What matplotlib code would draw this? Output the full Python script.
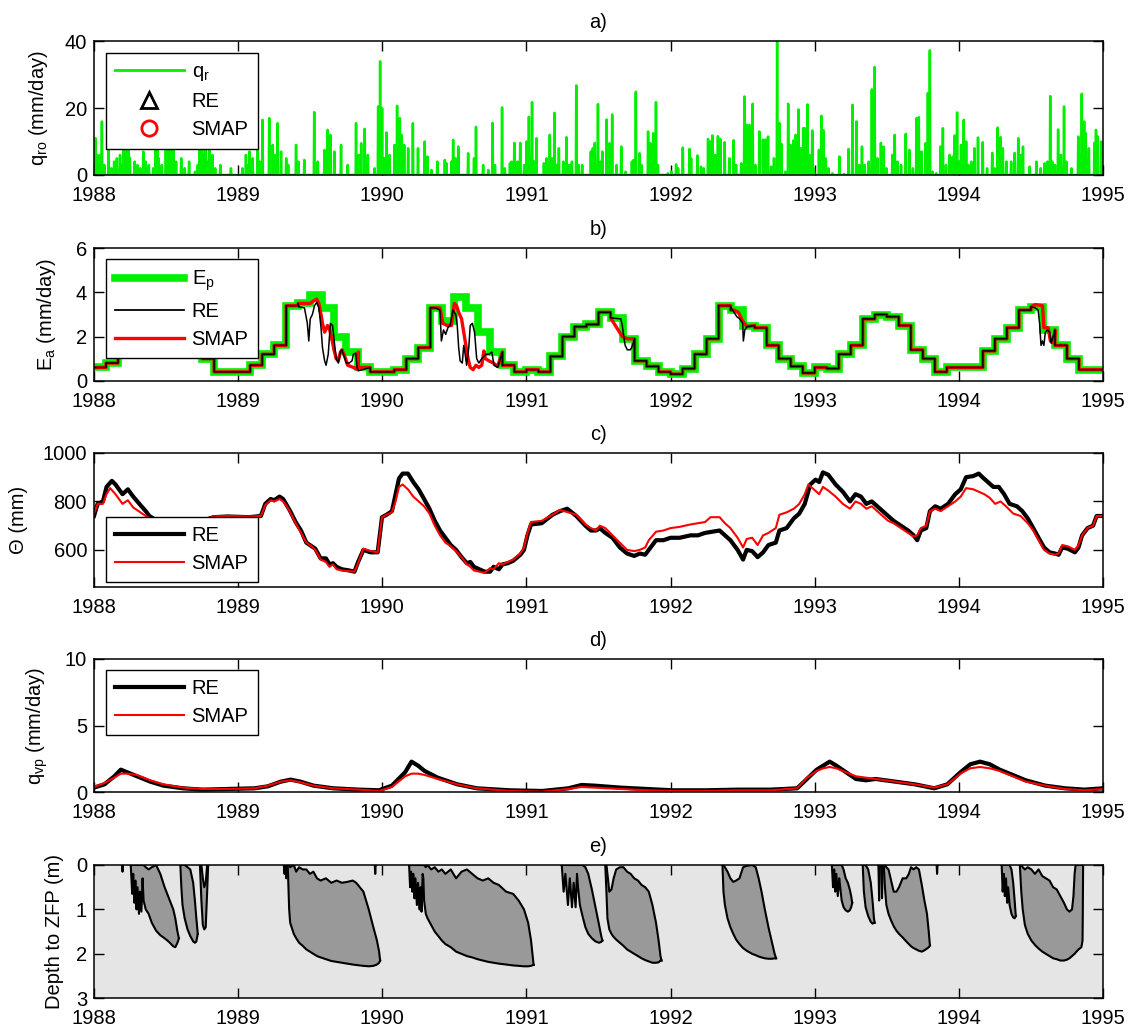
import numpy as np
import matplotlib
matplotlib.use("Agg")
import matplotlib.pyplot as plt
from matplotlib.lines import Line2D

plt.rcParams['font.family'] = ['Liberation Sans', 'DejaVu Sans']
plt.rcParams['mathtext.fontset'] = 'custom'
plt.rcParams['mathtext.rm'] = 'Liberation Sans'
plt.rcParams['mathtext.it'] = 'Liberation Sans'
FS = 14.5

# ---------------------------------------------------------------- data
years = [1988, 1989, 1990, 1991, 1992, 1993, 1994, 1995]

# (a) daily rainfall q_r spikes: (decimal year, mm/day)
rain_spikes = [
    (1988.000, 10), (1988.010, 11), (1988.025, 6), (1988.044, 6), (1988.056, 16), (1988.070, 3),
    (1988.102, 9), (1988.120, 2), (1988.140, 4), (1988.160, 5), (1988.180, 6), (1988.190, 3),
    (1988.206, 10), (1988.225, 12), (1988.240, 9), (1988.250, 5), (1988.281, 4), (1988.300, 3),
    (1988.320, 2), (1988.341, 7), (1988.360, 4), (1988.381, 3), (1988.410, 2), (1988.427, 11),
    (1988.440, 9), (1988.450, 5), (1988.470, 3), (1988.497, 13), (1988.510, 10), (1988.520, 6),
    (1988.531, 15), (1988.550, 9), (1988.570, 4), (1988.606, 5), (1988.630, 2), (1988.659, 4),
    (1988.700, 1), (1988.720, 3), (1988.735, 12), (1988.750, 10), (1988.760, 6), (1988.775, 14),
    (1988.790, 4), (1988.800, 9), (1988.821, 6), (1988.840, 2), (1988.875, 3), (1988.949, 2),
    (1989.030, 2), (1989.053, 6), (1989.070, 3), (1989.080, 7), (1989.100, 5), (1989.135, 8),
    (1989.150, 4), (1989.169, 16.5), (1989.216, 17), (1989.239, 9), (1989.255, 6), (1989.274, 15.5),
    (1989.297, 7), (1989.332, 5), (1989.348, 3), (1989.401, 9), (1989.418, 4), (1989.459, 4.5),
    (1989.529, 18.8), (1989.552, 4), (1989.599, 7.5), (1989.622, 13.5), (1989.640, 12), (1989.668, 7),
    (1989.715, 9), (1989.761, 3), (1989.819, 15.5), (1989.838, 6), (1989.854, 9.5), (1989.877, 13.8),
    (1989.900, 6), (1989.947, 2), (1989.970, 20.5), (1989.984, 34), (1990.000, 20), (1990.016, 5),
    (1990.028, 12.7), (1990.051, 6), (1990.086, 9), (1990.104, 20.7), (1990.121, 17), (1990.132, 12),
    (1990.151, 9), (1990.179, 8), (1990.213, 15.5), (1990.248, 8), (1990.295, 10), (1990.314, 5.5),
    (1990.342, 1.5), (1990.383, 4), (1990.434, 4.5), (1990.446, 3.5), (1990.480, 4), (1990.492, 10.5),
    (1990.508, 5), (1990.527, 8.5), (1990.596, 6.5), (1990.637, 5), (1990.649, 14.4), (1990.700, 3),
    (1990.734, 1.5), (1990.764, 15.6), (1990.781, 3), (1990.831, 20.2), (1990.850, 2), (1990.885, 3.5),
    (1990.896, 4), (1990.915, 9.6), (1990.938, 4), (1990.958, 9.6), (1990.984, 3), (1991.000, 10),
    (1991.018, 17.4), (1991.039, 21.8), (1991.053, 4), (1991.069, 11), (1991.120, 3.5), (1991.139, 5),
    (1991.162, 12), (1991.178, 5), (1991.196, 18.6), (1991.212, 3), (1991.226, 8), (1991.254, 4),
    (1991.277, 11.3), (1991.296, 3), (1991.316, 4), (1991.346, 26.8), (1991.363, 3), (1991.386, 3),
    (1991.446, 7), (1991.462, 8), (1991.473, 9.6), (1991.497, 21.2), (1991.515, 4), (1991.527, 7),
    (1991.557, 16.6), (1991.577, 9.5), (1991.596, 18.1), (1991.624, 3), (1991.658, 8.5), (1991.688, 1),
    (1991.732, 4), (1991.744, 4.5), (1991.760, 24.9), (1991.785, 6.5), (1991.797, 3), (1991.843, 13),
    (1991.861, 9.5), (1991.880, 12.5), (1991.898, 21.8), (1991.912, 3), (1991.982, 0.5), (1992.005, 1),
    (1992.039, 3.2), (1992.051, 2), (1992.085, 8.2), (1992.132, 7.8), (1992.143, 5), (1992.185, 5.8),
    (1992.212, 2.5), (1992.231, 2), (1992.259, 10.8), (1992.277, 10), (1992.289, 11.8), (1992.309, 6),
    (1992.328, 11.6), (1992.346, 10.8), (1992.374, 9.8), (1992.409, 5), (1992.439, 10.4), (1992.455, 3),
    (1992.490, 3.5), (1992.513, 23.5), (1992.529, 15), (1992.547, 15), (1992.570, 21.3), (1992.589, 3),
    (1992.617, 13), (1992.640, 10.6), (1992.659, 10.6), (1992.675, 11.5), (1992.698, 2.5), (1992.717, 5),
    (1992.740, 40), (1992.756, 15.5), (1992.768, 9.3), (1992.798, 1), (1992.817, 21.3), (1992.833, 9),
    (1992.851, 10.3), (1992.868, 12), (1992.886, 19.6), (1992.903, 8), (1992.921, 14), (1992.930, 14),
    (1992.949, 21.1), (1992.965, 6), (1992.984, 13.3), (1992.995, 2), (1993.030, 7.5), (1993.046, 17.7),
    (1993.060, 13.4), (1993.077, 5), (1993.095, 2), (1993.123, 0.5), (1993.172, 5.5), (1993.204, 0.3),
    (1993.234, 7.8), (1993.262, 21), (1993.290, 16), (1993.309, 3), (1993.327, 8.5), (1993.348, 3),
    (1993.374, 4), (1993.397, 25.6), (1993.415, 32.3), (1993.436, 5), (1993.459, 9.6), (1993.478, 8.5),
    (1993.497, 2), (1993.538, 6), (1993.555, 12), (1993.575, 4), (1993.599, 3), (1993.633, 12.3),
    (1993.657, 7.5), (1993.680, 2), (1993.705, 17), (1993.722, 17.3), (1993.742, 7), (1993.768, 9.5),
    (1993.784, 24.5), (1993.800, 37.3), (1993.819, 1), (1993.842, 0.5), (1993.872, 8.5), (1993.889, 14),
    (1993.912, 3), (1993.935, 6), (1993.958, 5.5), (1993.970, 11.8), (1993.988, 18.7), (1994.005, 4),
    (1994.016, 9), (1994.035, 16.5), (1994.051, 10), (1994.067, 3), (1994.086, 4), (1994.109, 8),
    (1994.132, 11.2), (1994.167, 9.8), (1994.197, 2), (1994.232, 6.6), (1994.248, 2), (1994.271, 14.2),
    (1994.290, 11.3), (1994.306, 8), (1994.329, 4), (1994.364, 4), (1994.387, 6.6), (1994.411, 11),
    (1994.429, 6), (1994.445, 8.5), (1994.492, 2.5), (1994.538, 4), (1994.568, 2), (1994.596, 3.5),
    (1994.615, 4), (1994.633, 23.6), (1994.647, 4), (1994.666, 3), (1994.689, 13.6), (1994.708, 6),
    (1994.731, 20.5), (1994.747, 4), (1994.782, 2), (1994.829, 11.5), (1994.840, 6), (1994.854, 24.3),
    (1994.868, 16), (1994.880, 12.5), (1994.903, 8), (1994.940, 9.6), (1994.951, 13.5), (1994.963, 11.5),
    (1994.986, 10),
]

# (b) monthly potential evaporation Ep (mm/day), Jan..Dec per year
ep_1988 = [0.6, 0.8, 1.35, 1.9, 2.6, 3.2, 3.5, 3.2, 2.2, 1.0, 0.4, 0.4]
ep_1989 = [0.4, 0.7, 1.2, 1.6, 3.4, 3.5, 3.9, 3.3, 2.0, 1.3, 0.6, 0.4]
ep_1990 = [0.4, 0.5, 1.0, 1.5, 3.3, 2.7, 3.8, 3.3, 2.2, 1.3, 0.7, 0.4]
ep_1991 = [0.5, 0.4, 1.1, 2.0, 2.45, 2.55, 3.1, 2.85, 1.9, 0.9, 0.65, 0.4]
ep_1992 = [0.3, 0.55, 1.2, 1.9, 3.4, 3.2, 2.5, 2.4, 1.6, 1.0, 0.65, 0.35]
ep_1993 = [0.6, 0.55, 1.2, 1.6, 2.8, 3.0, 2.9, 2.5, 1.4, 1.0, 0.4, 0.6]
ep_1994 = [0.6, 0.6, 1.35, 1.9, 2.4, 3.2, 3.35, 2.3, 1.6, 1.0, 0.5, 0.5]

# (b) periods where actual evaporation departs from Ep: (decimal year, mm/day)
ea_re_dev = [
    [(1989.42, 3.35), (1989.46, 3.3), (1989.48, 2.6), (1989.49, 1.8), (1989.50, 2.8), (1989.515, 3.0),
     (1989.53, 3.4), (1989.545, 3.55), (1989.56, 3.3), (1989.575, 2.4), (1989.585, 1.5), (1989.60, 0.9),
     (1989.61, 0.7), (1989.625, 1.2), (1989.64, 2.6), (1989.655, 2.5), (1989.67, 1.6), (1989.68, 1.0),
     (1989.695, 0.8), (1989.71, 1.3), (1989.72, 1.4), (1989.735, 1.1), (1989.75, 0.8), (1989.77, 0.8),
     (1989.79, 0.9), (1989.80, 1.2), (1989.815, 1.25), (1989.825, 0.6), (1989.835, 0.45)],
    [(1990.37, 3.3), (1990.40, 3.2), (1990.41, 1.8), (1990.425, 2.3), (1990.44, 2.1), (1990.455, 2.4),
     (1990.47, 2.5), (1990.49, 3.2), (1990.51, 3.0), (1990.52, 2.5), (1990.53, 1.5), (1990.54, 0.9),
     (1990.555, 0.8), (1990.565, 1.6), (1990.575, 1.2), (1990.585, 0.7), (1990.60, 1.5), (1990.61, 2.5),
     (1990.625, 2.6), (1990.64, 2.2), (1990.655, 1.0), (1990.67, 0.8), (1990.69, 1.0), (1990.72, 1.2),
     (1990.74, 1.2), (1990.76, 1.3), (1990.775, 0.7), (1990.80, 0.6)],
    [(1991.655, 2.8), (1991.665, 2.5), (1991.675, 2.0), (1991.685, 1.6), (1991.70, 1.4), (1991.72, 1.4),
     (1991.73, 1.5)],
    [(1992.42, 3.3), (1992.44, 3.1), (1992.46, 2.9), (1992.48, 2.8), (1992.50, 2.6), (1992.505, 1.8),
     (1992.515, 2.3), (1992.53, 2.45)],
    [(1994.53, 3.3), (1994.55, 3.2), (1994.56, 2.6), (1994.57, 1.6), (1994.58, 1.8), (1994.59, 1.6),
     (1994.60, 2.2), (1994.615, 2.3), (1994.63, 2.2), (1994.64, 1.7)],
]
ea_smap_dev = [
    [(1989.50, 3.5), (1989.52, 3.6), (1989.545, 3.7), (1989.56, 3.5), (1989.575, 3.0), (1989.585, 2.6),
     (1989.60, 2.2), (1989.62, 2.5), (1989.635, 2.3), (1989.65, 1.9), (1989.665, 1.4), (1989.68, 1.0),
     (1989.695, 0.9), (1989.71, 1.3), (1989.72, 1.4), (1989.74, 1.1), (1989.76, 0.7), (1989.80, 0.6),
     (1989.83, 0.5)],
    [(1990.40, 3.3), (1990.42, 2.6), (1990.45, 2.5), (1990.48, 2.5), (1990.50, 3.5), (1990.515, 3.4),
     (1990.53, 3.1), (1990.55, 2.8), (1990.565, 2.2), (1990.58, 1.6), (1990.595, 1.0), (1990.61, 0.6),
     (1990.63, 0.5), (1990.65, 0.7), (1990.67, 0.6), (1990.69, 0.7), (1990.705, 1.35), (1990.715, 1.0),
     (1990.74, 0.9), (1990.77, 0.8), (1990.80, 0.65)],
    [(1991.665, 2.0), (1991.70, 1.9), (1991.73, 1.9)],
    [(1992.44, 3.2), (1992.47, 3.1), (1992.50, 2.7), (1992.53, 2.45)],
    [(1994.53, 3.45), (1994.58, 3.4), (1994.59, 2.4), (1994.62, 2.4), (1994.635, 1.8), (1994.66, 1.7)],
]

# (c) soil water storage Theta (mm)
theta_re_t = [1988.000, 1988.025, 1988.062, 1988.087, 1988.124, 1988.149, 1988.198, 1988.235, 1988.272,
              1988.322, 1988.359, 1988.384, 1988.45, 1988.55, 1988.65, 1988.75, 1988.829, 1988.928,
              1989.077, 1989.158, 1989.188, 1989.225, 1989.250, 1989.287, 1989.312, 1989.337, 1989.361,
              1989.399, 1989.436, 1989.473, 1989.510, 1989.535, 1989.572, 1989.609, 1989.634, 1989.658,
              1989.683, 1989.720, 1989.770, 1989.807, 1989.832, 1989.869, 1989.918, 1989.968, 1989.998,
              1990.030, 1990.067, 1990.092, 1990.116, 1990.141, 1990.178, 1990.215, 1990.252, 1990.290,
              1990.327, 1990.364, 1990.401, 1990.438, 1990.475, 1990.512, 1990.550, 1990.587, 1990.611,
              1990.636, 1990.673, 1990.710, 1990.748, 1990.772, 1990.809, 1990.834, 1990.871, 1990.908,
              1990.958, 1990.983, 1991.007, 1991.032, 1991.106, 1991.181,
              1991.233, 1991.283, 1991.346, 1991.409, 1991.447, 1991.484, 1991.509, 1991.547, 1991.597,
              1991.648, 1991.698, 1991.748, 1991.786, 1991.824, 1991.849, 1991.899, 1991.950, 1992.000,
              1992.063, 1992.101, 1992.138, 1992.189, 1992.239, 1992.289, 1992.340, 1992.377, 1992.415,
              1992.465, 1992.503, 1992.528, 1992.566, 1992.604, 1992.642, 1992.679, 1992.730, 1992.755,
              1992.805, 1992.855, 1992.893, 1992.931, 1992.969, 1993.006, 1993.031, 1993.057, 1993.094,
              1993.145, 1993.195, 1993.245, 1993.283, 1993.321, 1993.358, 1993.396, 1993.434, 1993.472,
              1993.509, 1993.547, 1993.597, 1993.648, 1993.686, 1993.711, 1993.736, 1993.774, 1993.799,
              1993.836, 1993.874, 1993.925, 1993.975, 1994.013, 1994.050, 1994.101, 1994.138, 1994.164,
              1994.201, 1994.239, 1994.277, 1994.314, 1994.352, 1994.403, 1994.440, 1994.478, 1994.516,
              1994.553, 1994.591, 1994.629, 1994.667, 1994.692, 1994.717, 1994.755, 1994.805, 1994.830,
              1994.855, 1994.893, 1994.931, 1994.956, 1994.994]
theta_re = [740, 790, 800, 860, 885, 870, 830, 850, 820,
            785, 760, 740, 715, 700, 705, 720, 735, 738,
            735, 740, 790, 810, 805, 820, 810, 785, 760,
            715, 680, 630, 615, 605, 565, 565, 540, 545,
            530, 520, 515, 510, 550, 600, 590, 590, 735,
            745, 760, 830, 895, 915, 915, 880, 850, 810,
            770, 720, 680, 650, 620, 600, 570, 545, 550,
            530, 520, 510, 510, 530, 520, 540, 545, 555,
            580, 600, 660, 705, 710, 745,
            760, 770, 740, 700, 680, 680, 690, 670, 650,
            610, 585, 575, 585, 580, 600, 640, 640, 650,
            650, 655, 660, 660, 670, 675, 680, 660, 640,
            600, 560, 600, 595, 570, 590, 620, 630, 680,
            690, 730, 750, 790, 870, 890, 880, 920, 910,
            870, 840, 800, 830, 820, 790, 800, 780, 760,
            740, 720, 700, 680, 660, 640, 680, 690, 760,
            780, 770, 790, 830, 850, 900, 905, 915, 900,
            880, 860, 860, 830, 790, 780, 760, 730, 690,
            650, 610, 590, 585, 580, 610, 605, 590, 610,
            660, 690, 700, 740, 740]
theta_smap_t = [1988.000, 1988.025, 1988.062, 1988.087, 1988.112, 1988.149, 1988.198, 1988.235, 1988.272,
                1988.322, 1988.359, 1988.45, 1988.55, 1988.65, 1988.75, 1988.829, 1988.928, 1989.077,
                1989.158, 1989.188, 1989.225, 1989.250, 1989.287, 1989.312, 1989.337, 1989.361, 1989.399,
                1989.436, 1989.473, 1989.510, 1989.535, 1989.572, 1989.609, 1989.634, 1989.658, 1989.683,
                1989.720, 1989.770, 1989.807, 1989.832, 1989.869, 1989.918, 1989.968, 1989.998, 1990.030,
                1990.067, 1990.092, 1990.116, 1990.141, 1990.178, 1990.215, 1990.252, 1990.290, 1990.327,
                1990.364, 1990.401, 1990.438, 1990.475, 1990.512, 1990.550, 1990.587, 1990.611, 1990.636,
                1990.673, 1990.710, 1990.748, 1990.772, 1990.809, 1990.834, 1990.871, 1990.908, 1990.958,
                1990.983, 1991.007, 1991.032, 1991.106, 1991.181,
                1991.233, 1991.346, 1991.409, 1991.447, 1991.484, 1991.509, 1991.547, 1991.597, 1991.648,
                1991.698, 1991.748, 1991.786, 1991.824, 1991.849, 1991.899, 1991.950, 1992.000, 1992.063,
                1992.101, 1992.138, 1992.189, 1992.239, 1992.277, 1992.340, 1992.377, 1992.415, 1992.465,
                1992.503, 1992.528, 1992.566, 1992.604, 1992.642, 1992.679, 1992.730, 1992.755, 1992.805,
                1992.855, 1992.893, 1992.931, 1992.956, 1992.994, 1993.031, 1993.057, 1993.094, 1993.145,
                1993.195, 1993.245, 1993.283, 1993.321, 1993.358, 1993.396, 1993.434, 1993.472, 1993.509,
                1993.547, 1993.597, 1993.648, 1993.686, 1993.711, 1993.736, 1993.774, 1993.799, 1993.836,
                1993.874, 1993.925, 1993.975, 1994.013, 1994.050, 1994.101, 1994.138, 1994.176, 1994.214,
                1994.252, 1994.289, 1994.327, 1994.377, 1994.428, 1994.478, 1994.516, 1994.553, 1994.591,
                1994.629, 1994.667, 1994.692, 1994.717, 1994.755, 1994.805, 1994.830, 1994.855, 1994.893,
                1994.931, 1994.956, 1994.994]
theta_smap = [750, 790, 790, 830, 855, 830, 790, 805, 775,
              755, 740, 710, 695, 700, 720, 738, 740, 738,
              740, 785, 805, 800, 810, 800, 780, 755, 710,
              670, 630, 615, 600, 560, 550, 530, 540, 520,
              515, 512, 510, 545, 605, 595, 590, 735, 745,
              755, 800, 860, 870, 850, 820, 800, 780, 750,
              700, 660, 630, 615, 595, 570, 540, 530, 515,
              510, 505, 525, 520, 545, 540, 550, 560, 585,
              610, 670, 715, 720, 745,
              765, 745, 705, 690, 680, 700, 690, 660, 630,
              600, 595, 600, 610, 640, 675, 680, 690, 695,
              700, 705, 710, 715, 735, 735, 710, 690, 650,
              610, 645, 650, 620, 660, 670, 690, 745, 755,
              770, 790, 830, 870, 850, 830, 860, 845, 820,
              790, 770, 800, 790, 770, 780, 760, 740, 720,
              710, 690, 670, 655, 660, 690, 700, 760, 770,
              760, 780, 800, 820, 855, 850, 840, 830, 815,
              790, 800, 780, 750, 740, 710, 680, 640, 600,
              585, 580, 585, 620, 615, 600, 620, 660, 690,
              700, 740, 740]

# (d) vapour / drainage flux q_vp (mm/day)
qvp_t = [1988.000, 1988.073, 1988.141, 1988.186, 1988.231, 1988.299, 1988.390, 1988.481, 1988.617, 1988.752,
         1988.934, 1989.115, 1989.206, 1989.296, 1989.364, 1989.432, 1989.523, 1989.659, 1989.840, 1989.976,
         1990.067, 1990.158, 1990.203, 1990.248, 1990.294, 1990.384, 1990.520, 1990.656, 1990.883, 1991.110,
         1991.291, 1991.382, 1991.472, 1991.654, 1991.835, 1992.016, 1992.243, 1992.470, 1992.696, 1992.878,
         1992.946, 1993.014, 1993.059, 1993.104, 1993.150, 1993.218, 1993.286, 1993.354, 1993.422, 1993.558,
         1993.694, 1993.830, 1993.920, 1994.011, 1994.079, 1994.147, 1994.215, 1994.283, 1994.374, 1994.464,
         1994.600, 1994.736, 1994.872, 1994.999]
qvp_re = [0.35, 0.6, 1.2, 1.7, 1.5, 1.2, 0.8, 0.5, 0.3, 0.2,
          0.25, 0.3, 0.45, 0.8, 0.95, 0.8, 0.5, 0.3, 0.2, 0.15,
          0.5, 1.5, 2.3, 2.0, 1.6, 1.1, 0.6, 0.3, 0.15, 0.1,
          0.3, 0.55, 0.5, 0.35, 0.25, 0.15, 0.15, 0.2, 0.2, 0.3,
          1.0, 1.7, 2.0, 2.3, 2.0, 1.5, 1.0, 0.9, 1.0, 0.8,
          0.6, 0.3, 0.6, 1.5, 2.1, 2.3, 2.1, 1.7, 1.3, 0.9,
          0.5, 0.3, 0.2, 0.3]
qvp_smap = [0.4, 0.7, 1.1, 1.4, 1.4, 1.3, 0.9, 0.6, 0.35, 0.25,
            0.25, 0.3, 0.5, 0.8, 0.9, 0.75, 0.5, 0.3, 0.2, 0.1,
            0.4, 1.2, 1.4, 1.4, 1.3, 1.0, 0.6, 0.3, 0.1, 0.05,
            0.25, 0.4, 0.35, 0.25, 0.15, 0.1, 0.1, 0.15, 0.15, 0.3,
            1.1, 1.6, 1.8, 1.9, 1.8, 1.5, 1.2, 1.1, 1.0, 0.8,
            0.6, 0.35, 0.6, 1.4, 1.8, 1.9, 1.8, 1.6, 1.2, 0.8,
            0.5, 0.25, 0.15, 0.25]

# (e) depth to zero-flux plane events: (decimal year, upper depth, lower depth) in m
zfp_events = [
    [(1988.195, 0, 0), (1988.198, 0, 0.15), (1988.201, 0, 0)],
    [(1988.255, 0, 0), (1988.265, 0, 0.65), (1988.272, 0, 0.2), (1988.280, 0, 0.85), (1988.287, 0, 0.35),
     (1988.295, 0, 1.0), (1988.302, 0, 0.5), (1988.312, 0, 1.1), (1988.319, 0, 0.6), (1988.329, 0, 1.05),
     (1988.337, 0, 0.3), (1988.344, 0, 0.8), (1988.359, 0.05, 1.0), (1988.379, 0.1, 1.1),
     (1988.401, 0.05, 1.3), (1988.431, 0.0, 1.48), (1988.460, 0.2, 1.58), (1988.490, 0.5, 1.65),
     (1988.520, 0.75, 1.73), (1988.550, 1.0, 1.83), (1988.564, 1.2, 1.85), (1988.579, 1.5, 1.75),
     (1988.589, 1.65, 1.65)],
    [(1988.599, 0, 0), (1988.606, 0, 0.5), (1988.614, 0, 0.9), (1988.629, 0, 1.2), (1988.649, 0.05, 1.45),
     (1988.668, 0.1, 1.6), (1988.688, 0.4, 1.72), (1988.700, 0.8, 1.75), (1988.710, 1.2, 1.72),
     (1988.720, 1.55, 1.55)],
    [(1988.735, 0, 0), (1988.745, 0, 0.8), (1988.755, 0.3, 1.35), (1988.765, 0.5, 1.45),
     (1988.775, 0.4, 1.4), (1988.785, 0, 0.6), (1988.792, 0, 0)],
    [(1989.317, 0, 0), (1989.322, 0, 0.2), (1989.327, 0, 0), (1989.334, 0, 0.3), (1989.339, 0, 0)],
    [(1989.344, 0, 0), (1989.349, 0, 0.5), (1989.354, 0, 1.0), (1989.361, 0.05, 1.3), (1989.386, 0.0, 1.55),
     (1989.403, 0.15, 1.65), (1989.423, 0.05, 1.75), (1989.448, 0.1, 1.82), (1989.473, 0.1, 1.9),
     (1989.498, 0.2, 1.95), (1989.522, 0.15, 2.0), (1989.547, 0.3, 2.05), (1989.572, 0.35, 2.08),
     (1989.609, 0.3, 2.12), (1989.646, 0.4, 2.16), (1989.683, 0.35, 2.18), (1989.720, 0.4, 2.2),
     (1989.757, 0.38, 2.22), (1989.795, 0.35, 2.24), (1989.819, 0.4, 2.25), (1989.844, 0.5, 2.26),
     (1989.869, 0.6, 2.27), (1989.906, 1.0, 2.28), (1989.938, 1.4, 2.27), (1989.963, 1.7, 2.24),
     (1989.978, 1.95, 2.2), (1989.985, 2.15, 2.15)],
    [(1989.948, 0, 0), (1989.951, 0, 0.2), (1989.954, 0, 0)],
    [(1990.186, 0, 0), (1990.193, 0, 0.5), (1990.200, 0, 0.15), (1990.208, 0, 0.6), (1990.215, 0, 0.2),
     (1990.223, 0, 0.75), (1990.230, 0, 0.3), (1990.240, 0, 0.9), (1990.248, 0, 0.4), (1990.257, 0, 1.0),
     (1990.265, 0, 0.5), (1990.272, 0, 1.05), (1990.280, 0, 0.2), (1990.285, 0, 0.3), (1990.290, 0, 0.8),
     (1990.302, 0.05, 1.1), (1990.314, 0.0, 1.2), (1990.339, 0.1, 1.35), (1990.364, 0.05, 1.5),
     (1990.389, 0.15, 1.6), (1990.413, 0.1, 1.7), (1990.438, 0.2, 1.78), (1990.475, 0.1, 1.85),
     (1990.512, 0.3, 1.95), (1990.550, 0.15, 2.0), (1990.587, 0.1, 2.05), (1990.624, 0.2, 2.08),
     (1990.661, 0.3, 2.12), (1990.698, 0.35, 2.15), (1990.735, 0.3, 2.18), (1990.772, 0.4, 2.2),
     (1990.809, 0.45, 2.22), (1990.859, 0.6, 2.24), (1990.908, 0.65, 2.26), (1990.946, 0.8, 2.27),
     (1990.983, 1.0, 2.28), (1991.012, 1.3, 2.28), (1991.032, 1.7, 2.27), (1991.045, 2.1, 2.25),
     (1991.050, 2.25, 2.25)],
    [(1991.245, 0, 0), (1991.258, 0, 0.6), (1991.270, 0, 0.2), (1991.288, 0, 0.9), (1991.301, 0, 0.3),
     (1991.316, 0, 0.95), (1991.328, 0, 0.4), (1991.341, 0, 0.95), (1991.351, 0, 0.2), (1991.358, 0, 0.5),
     (1991.371, 0, 0.9), (1991.389, 0, 1.15), (1991.409, 0.05, 1.4), (1991.429, 0.2, 1.55),
     (1991.454, 0.55, 1.65), (1991.479, 0.95, 1.72), (1991.504, 1.35, 1.75), (1991.519, 1.6, 1.73),
     (1991.527, 1.7, 1.7)],
    [(1991.547, 0, 0), (1991.555, 0, 0.6), (1991.562, 0.2, 1.2), (1991.575, 0.6, 1.45), (1991.590, 0.55, 1.55),
     (1991.605, 0.3, 1.62), (1991.623, 0.1, 1.68), (1991.648, 0.05, 1.75), (1991.673, 0.05, 1.82),
     (1991.698, 0.15, 1.9), (1991.723, 0.2, 1.95), (1991.748, 0.3, 2.0), (1991.774, 0.35, 2.05),
     (1991.799, 0.45, 2.1), (1991.824, 0.5, 2.14), (1991.849, 0.6, 2.17), (1991.874, 0.9, 2.2),
     (1991.899, 1.3, 2.2), (1991.917, 1.7, 2.19), (1991.930, 2.05, 2.15), (1991.937, 2.15, 2.15)],
    [(1992.360, 0, 0), (1992.367, 0, 0.6), (1992.377, 0.05, 0.9), (1992.395, 0.15, 1.2), (1992.415, 0.3, 1.4),
     (1992.435, 0.38, 1.55), (1992.455, 0.35, 1.68), (1992.478, 0.3, 1.78), (1992.503, 0.05, 1.87),
     (1992.528, 0.02, 1.93), (1992.566, 0.0, 2.0), (1992.591, 0.05, 2.03), (1992.611, 0.3, 2.06),
     (1992.631, 0.6, 2.08), (1992.654, 1.0, 2.1), (1992.679, 1.4, 2.11), (1992.704, 1.75, 2.11),
     (1992.722, 2.0, 2.1), (1992.732, 2.1, 2.1)],
    [(1993.119, 0, 0), (1993.127, 0, 0.5), (1993.135, 0, 0.1), (1993.142, 0, 0.6), (1993.150, 0, 0.2),
     (1993.160, 0, 0.7), (1993.170, 0, 0.3), (1993.177, 0, 0.5), (1993.187, 0, 0.8), (1993.200, 0.1, 0.95),
     (1993.215, 0.3, 1.02), (1993.230, 0.4, 1.05), (1993.243, 0.55, 1.02), (1993.253, 0.7, 0.95),
     (1993.260, 0.85, 0.85)],
    [(1993.333, 0, 0), (1993.341, 0, 0.6), (1993.353, 0, 0.95), (1993.371, 0.1, 1.15), (1993.389, 0.4, 1.28),
     (1993.401, 0.8, 1.32), (1993.411, 1.2, 1.3), (1993.416, 1.3, 1.3)],
    [(1993.442, 0, 0), (1993.447, 0, 0.8), (1993.452, 0, 0)],
    [(1993.462, 0, 0), (1993.467, 0, 0.75), (1993.472, 0, 0)],
    [(1993.479, 0, 0), (1993.487, 0, 0.5), (1993.497, 0.05, 0.9), (1993.512, 0.1, 1.1), (1993.530, 0.35, 1.25),
     (1993.548, 0.6, 1.38), (1993.567, 0.6, 1.48), (1993.585, 0.5, 1.55), (1993.610, 0.3, 1.63),
     (1993.635, 0.3, 1.72), (1993.653, 0.2, 1.78), (1993.668, 0.05, 1.83), (1993.686, 0.1, 1.87),
     (1993.704, 0.05, 1.9), (1993.723, 0.1, 1.93), (1993.743, 0.45, 1.95), (1993.761, 0.8, 1.92),
     (1993.779, 1.1, 1.88), (1993.791, 1.5, 1.85), (1993.799, 1.8, 1.82)],
    [(1993.846, 0, 0), (1993.849, 0, 0.2), (1993.852, 0, 0)],
    [(1994.297, 0, 0), (1994.304, 0, 0.6), (1994.312, 0, 0.2), (1994.319, 0, 0.7), (1994.327, 0, 0.3),
     (1994.335, 0, 0.85), (1994.342, 0, 0.5), (1994.352, 0, 0.9), (1994.365, 0.1, 1.1), (1994.377, 0.4, 1.18),
     (1994.387, 0.8, 1.2), (1994.395, 1.15, 1.15)],
    [(1994.423, 0, 0), (1994.433, 0, 0.6), (1994.443, 0.05, 1.0), (1994.458, 0.1, 1.35), (1994.478, 0.05, 1.55),
     (1994.503, 0.1, 1.7), (1994.528, 0.2, 1.8), (1994.553, 0.1, 1.88), (1994.579, 0.25, 1.95),
     (1994.604, 0.3, 2.0), (1994.629, 0.35, 2.05), (1994.654, 0.5, 2.1), (1994.679, 0.55, 2.12),
     (1994.704, 0.7, 2.15), (1994.729, 0.85, 2.15), (1994.750, 1.0, 2.13), (1994.767, 1.05, 2.1),
     (1994.785, 1.0, 2.05), (1994.795, 0.7, 2.02), (1994.803, 0.2, 2.0), (1994.810, 0.0, 1.97),
     (1994.830, 0, 1.9), (1994.850, 0, 1.85), (1994.858, 0, 1.7), (1994.860, 0, 1.0), (1994.862, 0, 0)],
]

# ---------------------------------------------------------------- styling
GREEN = '#00f000'
RED = '#ff0000'
W, H = 1131, 1029
L, R = 94, 1103
panel_px = [(41.3, 175.0), (248.3, 380.7), (453.0, 586.7), (659.0, 792.3), (865.0, 998.3)]

fig = plt.figure(figsize=(W / 100, H / 100), dpi=100)
axes = []
for top, bot in panel_px:
    ax = fig.add_axes([L / W, 1 - bot / H, (R - L) / W, (bot - top) / H])
    axes.append(ax)


def style(ax, title):
    ax.set_xlim(1988, 1995)
    ax.set_xticks(years)
    ax.set_xticklabels([str(y) for y in years])
    ax.tick_params(direction='in', length=7, width=1.0, top=True, right=True,
                   labelsize=FS)
    ax.tick_params(axis='x', pad=8)
    ax.tick_params(axis='y', pad=5)
    for s in ax.spines.values():
        s.set_linewidth(1.1)
        s.set_zorder(10)
    ax.set_title(title, fontsize=FS, pad=9.5)


def leg(ax, handles, labels, ytop):
    lg = ax.legend(handles, labels, loc='upper left', bbox_to_anchor=((106 - L) / (R - L), ytop),
                   borderaxespad=0, fontsize=FS, fancybox=False, framealpha=1, edgecolor='k',
                   handlelength=3.4, handletextpad=0.4, labelspacing=0.45, borderpad=0.45)
    lg.get_frame().set_linewidth(1.0)
    lg.set_zorder(20)
    return lg


# (a)
ax = axes[0]
ndays = int(round(7 * 365.25)) + 1
t_day = 1988 + np.arange(ndays) / 365.25
q_r = np.zeros(ndays)
for yr, v in rain_spikes:
    q_r[int(round((yr - 1988) * 365.25))] = v
ax.plot(t_day, q_r, color=GREEN, lw=1.8)
ax.set_ylim(0, 40)
ax.set_yticks([0, 20, 40])
style(ax, 'a)')
ax.set_ylabel(r'q$_\mathrm{ro}$ (mm/day)', fontsize=FS)
ax.yaxis.set_label_coords((50 - L) / (R - L), 0.5)
h_a = [Line2D([], [], color=GREEN, lw=2),
       Line2D([], [], ls='none', marker='^', mfc='none', mec='k', mew=2, ms=12),
       Line2D([], [], ls='none', marker='o', mfc='none', mec=RED, mew=2, ms=11)]
leg(ax, h_a, [r'q$_\mathrm{r}$', 'RE', 'SMAP'], 1 - (53.3 - 41.3) / 133.7)

# (b)
ax = axes[1]
ep = ep_1988 + ep_1989 + ep_1990 + ep_1991 + ep_1992 + ep_1993 + ep_1994
edges = 1988 + np.arange(len(ep) + 1) / 12.0


def follow_ep(dev):
    pts = []
    for i, v in enumerate(ep):
        pts += [(edges[i], v), (edges[i + 1], v)]
    for win in dev:
        t0, t1 = win[0][0], win[-1][0]
        pts = [p for p in pts if p[0] < t0 or p[0] > t1] + list(win)
    pts.sort(key=lambda p: p[0])
    return [p[0] for p in pts], [p[1] for p in pts]


ax.stairs(ep, edges, color=GREEN, lw=5.5, baseline=None, zorder=2)
sx, sy = follow_ep(ea_smap_dev)
ax.plot(sx, sy, color=RED, lw=2.4, zorder=3)
rx, ry = follow_ep(ea_re_dev)
ax.plot(rx, ry, color='k', lw=1.1, zorder=4)
ax.set_ylim(0, 6)
ax.set_yticks([0, 2, 4, 6])
style(ax, 'b)')
ax.set_ylabel(r'E$_\mathrm{a}$ (mm/day)', fontsize=FS)
ax.yaxis.set_label_coords((58 - L) / (R - L), 0.5)
h_b = [Line2D([], [], color=GREEN, lw=5.5), Line2D([], [], color='k', lw=1.3),
       Line2D([], [], color=RED, lw=2.4)]
leg(ax, h_b, [r'E$_\mathrm{p}$', 'RE', 'SMAP'], 1 - (259.3 - 248.3) / 132.4)

# (c)
ax = axes[2]
ax.plot(theta_re_t, theta_re, color='k', lw=3.0)
ax.plot(theta_smap_t, theta_smap, color=RED, lw=1.5)
ax.set_ylim(448, 1000)
ax.set_yticks([600, 800, 1000])
style(ax, 'c)')
ax.set_ylabel('\u0398 (mm)', fontsize=FS)
ax.yaxis.set_label_coords((28 - L) / (R - L), 0.5)
h_c = [Line2D([], [], color='k', lw=3.0), Line2D([], [], color=RED, lw=1.5)]
leg(ax, h_c, ['RE', 'SMAP'], 1 - (516.7 - 453) / 133.7)

# (d)
ax = axes[3]
ax.plot(qvp_t, qvp_re, color='k', lw=3.0)
ax.plot(qvp_t, qvp_smap, color=RED, lw=1.5)
ax.set_ylim(0, 10)
ax.set_yticks([0, 5, 10])
style(ax, 'd)')
ax.set_ylabel(r'q$_\mathrm{vp}$ (mm/day)', fontsize=FS)
ax.yaxis.set_label_coords((50 - L) / (R - L), 0.5)
leg(ax, h_c, ['RE', 'SMAP'], 1 - (670 - 659) / 133.3)

# (e)
ax = axes[4]
ax.set_facecolor('#e5e5e5')
for ev in zfp_events:
    et = [p[0] for p in ev]
    etop = [p[1] for p in ev]
    ebot = [p[2] for p in ev]
    ax.fill_between(et, etop, ebot, color='#999999', lw=0, zorder=2)
    ax.plot(et, etop, color='k', lw=1.5, zorder=3)
    ax.plot(et, ebot, color='k', lw=1.5, zorder=3)
ax.set_ylim(3, 0)
ax.set_yticks([0, 1, 2, 3])
style(ax, 'e)')
ax.set_ylabel('Depth to ZFP (m)', fontsize=FS)
ax.yaxis.set_label_coords((64 - L) / (R - L), 0.5)

fig.savefig('out.png', dpi=100)
